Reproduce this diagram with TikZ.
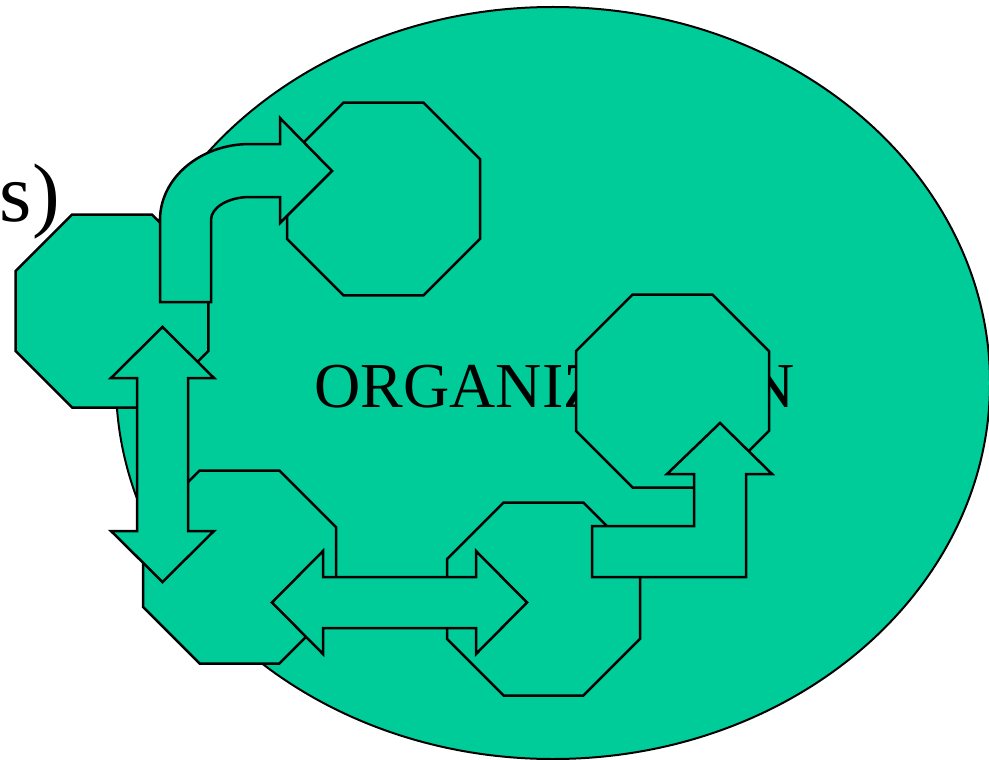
\documentclass[tikz,border=0pt]{standalone}
\usepackage{fontspec}
\setmainfont{Liberation Serif}
\usetikzlibrary{shapes.geometric}
\definecolor{orggreen}{RGB}{0,204,153}

\begin{document}
\begin{tikzpicture}[x=1bp, y=-1bp,
    octagon/.style={draw, fill=orggreen, line width=2.5bp, regular polygon,
      regular polygon sides=8, minimum size=208.9bp, inner sep=0pt},
    blockarrow/.style={draw, fill=orggreen, line width=2.5bp}]
  \useasboundingbox (0, 0) rectangle (989, 760);

  \node[draw, fill=orggreen, line width=2bp, ellipse, minimum width=874bp,
    minimum height=752bp, inner sep=0pt] (org) at (553, 383) {};
  \node[anchor=base, inner sep=0pt, font=\fontsize{64bp}{72bp}\selectfont]
    (orglabel) at (554.5, 407) {ORGANIZATION};
  \node[anchor=base east, inner sep=0pt, font=\fontsize{83bp}{92bp}\selectfont]
    (cut) at (60, 221) {s)};

  % the units
  \node[octagon] (unitL) at (112, 311) {};
  \node[octagon] (unitT) at (383.5, 199) {};
  \node[octagon] (unitR) at (672.5, 391) {};
  \node[octagon] (unitBL) at (239.5, 567) {};
  \node[octagon] (unitBM) at (543.5, 599) {};

  % the flows between them
  \draw[blockarrow] (160, 302) -- (160, 220)
    .. controls (160, 178) and (200.3, 144) .. (250, 144) -- (280, 144)
    -- (280, 118) -- (332, 171) -- (280, 223) -- (280, 197) -- (250, 197)
    .. controls (228.5, 197) and (211, 207.3) .. (211, 220) -- (211, 302) -- cycle;
  \draw[blockarrow] (162.5, 327) -- (214, 378) -- (188, 378) -- (188, 531)
    -- (214, 531) -- (162.5, 582) -- (111, 531) -- (137, 531) -- (137, 378)
    -- (111, 378) -- cycle;
  \draw[blockarrow] (272, 602.5) -- (323, 551) -- (323, 577) -- (476, 577)
    -- (476, 551) -- (527, 602.5) -- (476, 654) -- (476, 628) -- (323, 628)
    -- (323, 654) -- cycle;
  \draw[blockarrow] (592, 526) -- (694, 526) -- (694, 474) -- (667, 474)
    -- (720, 423) -- (772, 474) -- (746, 474) -- (746, 577) -- (592, 577) -- cycle;
\end{tikzpicture}
\end{document}
